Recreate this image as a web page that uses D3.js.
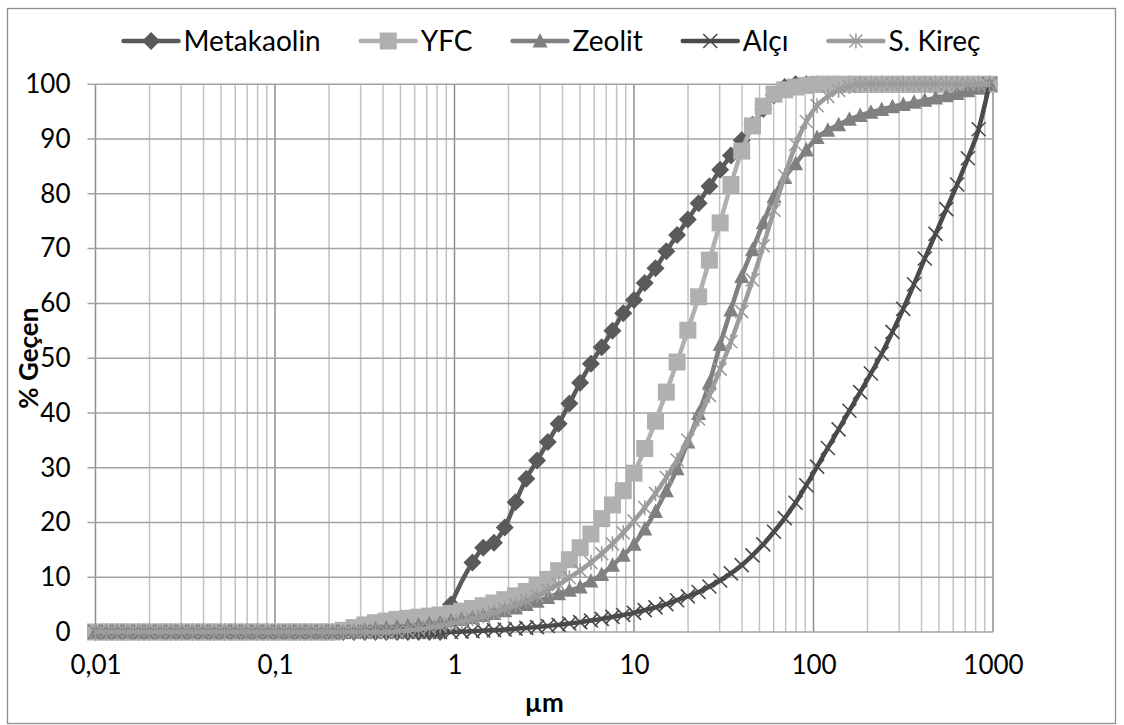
<!DOCTYPE html>
<html>
<head>
<meta charset="utf-8">
<script src="https://cdn.jsdelivr.net/npm/d3@7"></script>
<style>
  body { margin: 0; background: #fff; }
  svg { display: block; font-family: Lato, "Open Sans", sans-serif; }
</style>
</head>
<body>
<div id="chart"></div>
<script>
// particle size classes (µm)
const sizes = [
  0.01, 0.01148, 0.01318, 0.01514, 0.01738, 0.01995, 0.02291, 0.0263, 0.0302, 0.03467,
  0.03981, 0.04571, 0.05248, 0.06026, 0.06918, 0.07943, 0.0912, 0.1047, 0.1202, 0.138,
  0.1585, 0.182, 0.2089, 0.2399, 0.2754, 0.3162, 0.3631, 0.4169, 0.4786, 0.5495,
  0.631, 0.7244, 0.8318, 0.955, 1.096, 1.259, 1.445, 1.66, 1.905, 2.188,
  2.512, 2.884, 3.311, 3.802, 4.365, 5.012, 5.754, 6.607, 7.586, 8.71,
  10, 11.48, 13.18, 15.14, 17.38, 19.95, 22.91, 26.3, 30.2, 34.67,
  39.81, 45.71, 52.48, 60.26, 69.18, 79.43, 91.2, 104.7, 120.2, 138,
  158.5, 182, 208.9, 239.9, 275.4, 316.2, 363.1, 416.9, 478.6, 549.5,
  631, 724.4, 831.8, 955
];

// % geçen, one value per size class (null = no reading)
const metakaolin = [
  0, 0, 0, 0, 0, 0, 0, 0, 0, 0,
  0, 0, 0, 0, 0, 0, 0, 0, 0, 0,
  0, 0, 0, 0, 0, 0, 0, 0, 0, 0,
  0, 0, 0, 5, null, 12.7, 15.4, 16.3, 19.1, 23.7,
  28, 31.3, 34.7, 38, 41.7, 45.5, 49, 52, 55, 58.2,
  60.6, 63.7, 66.4, 69.5, 72.5, 75.3, 78.3, 81.4, 84.4, 87,
  89.8, 92.6, 95.5, 98, 99.5, 100, 100, 100, 100, 100,
  100, 100, 100, 100, 100, 100, 100, 100, 100, 100,
  100, 100, 100, 100
];
const yfc = [
  0, 0, 0, 0, 0, 0, 0, 0, 0, 0,
  0, 0, 0, 0, 0, 0, 0, 0, 0, 0,
  0, 0, 0, 0.3, 0.8, 1.3, 1.7, 2, 2.3, 2.5,
  2.7, 2.9, 3.1, 3.4, 3.8, 4.3, 4.8, 5.3, 5.9, 6.6,
  7.4, 8.4, 9.6, 11.2, 13.2, 15.4, 17.9, 20.7, 23.2, 25.8,
  29, 33.5, 38.5, 43.8, 49.3, 55.1, 61.2, 67.9, 74.7, 81.7,
  87.8, 92.4, 96, 98.2, 99, 99.5, 99.8, 100, 100, 100,
  100, 100, 100, 100, 100, 100, 100, 100, 100, 100,
  100, 100, 100, 100
];
const zeolit = [
  0, 0, 0, 0, 0, 0, 0, 0, 0, 0,
  0, 0, 0, 0, 0, 0, 0, 0, 0, 0,
  0, 0, 0, 0, 0.1, 0.3, 0.5, 0.7, 0.9, 1.1,
  1.3, 1.5, 1.7, 2, 2.3, 2.6, 3, 3.4, 3.9, 4.4,
  5, 5.6, 6.3, 7, 7.6, 8.2, 9.3, 10.5, 12.2, 14,
  16, 18.8, 22, 25.8, 29.8, 34.7, 39.9, 45.5, 52.5, 58.8,
  64.9, 69.8, 74.7, 79.5, 83, 85.5, 88, 90.3, 91.6, 92.6,
  93.6, 94.3, 94.9, 95.4, 95.9, 96.3, 96.7, 97.1, 97.5, 97.9,
  98.3, 98.8, 99.3, 100
];
const alci = [
  0, 0, 0, 0, 0, 0, 0, 0, 0, 0,
  0, 0, 0, 0, 0, 0, 0, 0, 0, 0,
  0, 0, 0, 0, 0, 0, 0, 0, 0, 0,
  0, 0, 0, 0, 0.08, 0.15, 0.25, 0.35, 0.45, 0.6,
  0.75, 0.9, 1.1, 1.3, 1.55, 1.8, 2.1, 2.4, 2.75, 3.1,
  3.5, 4, 4.5, 5.1, 5.8, 6.5, 7.3, 8.3, 9.4, 10.7,
  12.2, 14, 16, 18.3, 20.8, 23.6, 26.8, 30.2, 33.6, 37,
  40.4, 43.8, 47.2, 50.8, 54.8, 59, 63.5, 68.2, 72.7, 77.2,
  81.7, 86.5, 91.8, 100
];
const sKirec = [
  0, 0, 0, 0, 0, 0, 0, 0, 0, 0,
  0, 0, 0, 0, 0, 0, 0, 0, 0, 0,
  0, 0, 0, 0, 0, 0, 0, 0, 0.1, 0.3,
  0.5, 0.8, 1.1, 1.5, 1.9, 2.4, 2.9, 3.5, 4.2, 4.9,
  5.7, 6.6, 7.6, 8.7, 9.9, 11.2, 12.7, 14.3, 16.1, 18.1,
  20.3, 22.7, 25.3, 28.2, 31.4, 35, 38.9, 43.2, 48, 53,
  58.5, 64.3, 70.5, 77, 83.3, 89, 93.2, 96.1, 97.8, 98.9,
  99.6, 100, 100, 100, 100, 100, 100, 100, 100, 100,
  100, 100, 100, 100
];

const seriesNames = ['Metakaolin', 'YFC', 'Zeolit', 'Alçı', 'S. Kireç'];
const seriesValues = [metakaolin, yfc, zeolit, alci, sKirec];

const xTickValues = [0.01, 0.1, 1, 10, 100, 1000];
const xTickLabels = ['0,01', '0,1', '1', '10', '100', '1000'];
const yTickValues = [0, 10, 20, 30, 40, 50, 60, 70, 80, 90, 100];

const xTitle = 'µm';
const yTitle = '% Geçen';

// görünüm ayarları
const width = 1124, height = 725;
const plot = {left: 95.5, right: 993, top: 84.3, bottom: 632};
const styles = [
  {color: '#5a5a5a', marker: 'diamond'},
  {color: '#b0b0b0', marker: 'square'},
  {color: '#808080', marker: 'triangle'},
  {color: '#4a4a4a', marker: 'x'},
  {color: '#9c9c9c', marker: 'star'}
];

const svg = d3.select('#chart')
  .append('svg')
  .attr('width', width)
  .attr('height', height);

svg.append('rect')
  .attr('x', 7.5).attr('y', 8.5)
  .attr('width', 1108).attr('height', 715)
  .attr('fill', '#fff')
  .attr('stroke', '#8c8c8c')
  .attr('stroke-width', 1.3);

const x = d3.scaleLog()
  .domain([0.01, 1000])
  .range([plot.left, plot.right]);

const y = d3.scaleLinear()
  .domain([0, 100])
  .range([plot.bottom, plot.top]);

// ızgara çizgileri
const grid = svg.append('g');
const majors = new Set(xTickValues);
x.ticks().forEach(t => {
  const isMajor = majors.has(t);
  grid.append('line')
    .attr('x1', x(t)).attr('x2', x(t))
    .attr('y1', plot.top).attr('y2', plot.bottom)
    .attr('stroke', isMajor ? '#8e8e8e' : '#c2c2c2')
    .attr('stroke-width', 1.5);
});
yTickValues.forEach(t => {
  grid.append('line')
    .attr('x1', plot.left - 8).attr('x2', plot.right)
    .attr('y1', y(t)).attr('y2', y(t))
    .attr('stroke', '#a3a3a3')
    .attr('stroke-width', 1.5);
});

// eksen yazıları
const xAxis = svg.append('g')
  .attr('transform', `translate(0,${plot.bottom})`)
  .call(d3.axisBottom(x).tickValues(xTickValues).tickFormat((d, i) => xTickLabels[i]).tickSize(0).tickPadding(24));
xAxis.select('.domain').remove();
xAxis.selectAll('text')
  .attr('fill', '#000')
  .style('font-size', '26px')
  .style('font-family', 'Lato, sans-serif');

const yAxis = svg.append('g')
  .attr('transform', `translate(${plot.left},0)`)
  .call(d3.axisLeft(y).tickValues(yTickValues).tickSize(0).tickPadding(25));
yAxis.select('.domain').remove();
yAxis.selectAll('text')
  .attr('fill', '#000')
  .style('font-size', '26px')
  .style('font-family', 'Lato, sans-serif');

svg.append('text')
  .attr('x', (plot.left + plot.right) / 2)
  .attr('y', 712)
  .attr('text-anchor', 'middle')
  .attr('font-size', 26)
  .attr('font-weight', 'bold')
  .text(xTitle);

svg.append('text')
  .attr('transform', `translate(38,${(plot.top + plot.bottom) / 2}) rotate(-90)`)
  .attr('text-anchor', 'middle')
  .attr('font-size', 26)
  .attr('font-weight', 'bold')
  .text(yTitle);

// işaret çizimi
function drawMarker(g, type, color) {
  if (type === 'diamond') {
    g.append('path').attr('d', 'M0,-9L9,0L0,9L-9,0Z').attr('fill', color);
  } else if (type === 'square') {
    g.append('rect').attr('x', -8.5).attr('y', -8.5).attr('width', 17).attr('height', 17).attr('fill', color);
  } else if (type === 'triangle') {
    g.append('path').attr('d', 'M0,-8L7.5,6.5L-7.5,6.5Z').attr('fill', color);
  } else if (type === 'x') {
    g.append('path').attr('d', 'M-7,-7L7,7M-7,7L7,-7')
      .attr('stroke', color).attr('stroke-width', 1.6).attr('fill', 'none');
  } else if (type === 'star') {
    g.append('path').attr('d', 'M-6.5,-6.5L6.5,6.5M-6.5,6.5L6.5,-6.5M0,-7.5L0,7.5')
      .attr('stroke', color).attr('stroke-width', 1.6).attr('fill', 'none');
  }
}

const line = d3.line()
  .x(d => x(d.size))
  .y(d => y(d.value))
  .curve(d3.curveMonotoneX);

seriesValues.forEach((values, si) => {
  const pts = sizes.map((s, i) => ({size: s, value: values[i]}))
    .filter(d => d.value !== null);
  const g = svg.append('g');
  g.append('path')
    .datum(pts)
    .attr('d', line)
    .attr('fill', 'none')
    .attr('stroke', styles[si].color)
    .attr('stroke-width', 4.5)
    .attr('stroke-linejoin', 'round');
  g.selectAll('g.m')
    .data(pts)
    .join('g')
    .attr('class', 'm')
    .attr('transform', d => `translate(${x(d.size)},${y(d.value)})`)
    .each(function () { drawMarker(d3.select(this), styles[si].marker, styles[si].color); });
});

// lejant
const legend = svg.append('g');
let lx = 0;
const legendY = 41;
seriesNames.forEach((name, i) => {
  const item = legend.append('g').attr('transform', `translate(${lx},${legendY})`);
  item.append('line')
    .attr('x1', 0).attr('x2', 55)
    .attr('stroke', styles[i].color)
    .attr('stroke-width', 4.5)
    .attr('stroke-linecap', 'round');
  drawMarker(item.append('g').attr('transform', 'translate(27.5,0)'), styles[i].marker, styles[i].color);
  const t = item.append('text')
    .attr('x', 60)
    .attr('dy', '0.35em')
    .attr('font-size', 28)
    .text(name);
  lx += 60 + t.node().getComputedTextLength() + 40;
});
lx -= 40;
legend.attr('transform', `translate(${552 - lx / 2},0)`);
</script>
</body>
</html>
